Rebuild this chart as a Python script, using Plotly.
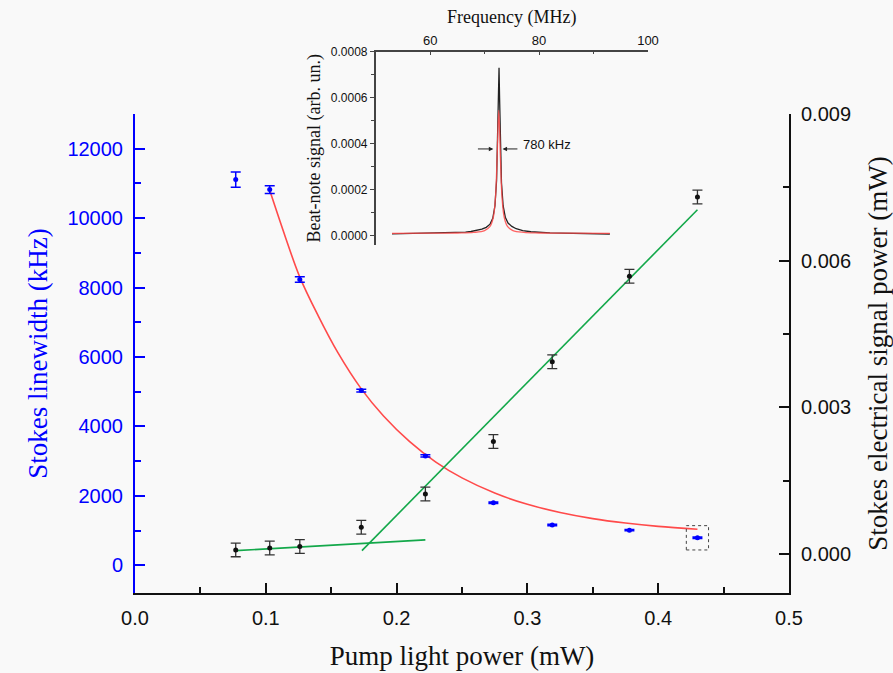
import plotly.graph_objects as go

# ---- main measurement data -------------------------------------------------
pump_mw = [0.077, 0.103, 0.126, 0.173, 0.222, 0.274, 0.319, 0.378, 0.430]
linewidth_khz = [11110, 10820, 8230, 5030, 3150, 1800, 1160, 1010, 790]
linewidth_err = [220, 110, 80, 40, 30, 20, 20, 20, 20]
stokes_power_mw = [0.000082, 0.000122, 0.000150, 0.000544, 0.001224,
                   0.00230, 0.00393, 0.00568, 0.00730]
stokes_power_err = [0.00014, 0.00014, 0.00014, 0.00014, 0.00014,
                    0.00014, 0.00014, 0.00014, 0.00014]

# exponential-decay fit of the linewidth
fit_x = [0.103, 0.115, 0.126, 0.14, 0.155, 0.173, 0.19, 0.21, 0.23, 0.25,
         0.275, 0.30, 0.325, 0.35, 0.375, 0.40, 0.43]
fit_linewidth = [10800, 9450, 8300, 7190, 6130, 5080, 4300, 3560, 2970, 2515,
                 2080, 1755, 1520, 1343, 1215, 1118, 1036]

# linear fits below / above threshold
below_x = [0.077, 0.222]
below_power = [0.000067, 0.000286]
above_x = [0.1735, 0.430]
above_power = [0.000067, 0.00704]

# ---- inset: beat-note spectrum --------------------------------------------
spec_freq = [53.0, 55.0, 57.0, 59.0, 61.0, 63.0, 65.0, 66.5, 67.5, 68.5, 69.5,
             70.3, 71.0, 71.5, 71.9, 72.2, 72.4, 72.55, 72.65, 72.75, 72.9,
             73.1, 73.4, 73.8, 74.3, 75.0, 75.8, 77.0, 78.5, 80.0, 82.0, 84.0,
             86.0, 88.0, 90.0, 93.0]
spec_signal = [8e-6, 9e-6, 8e-6, 1.0e-5, 9e-6, 1.1e-5, 1.3e-5, 1.5e-5, 1.8e-5,
               2.2e-5, 2.8e-5, 3.6e-5, 5.0e-5, 7.5e-5, 1.3e-4, 2.4e-4, 4.2e-4,
               6.2e-4, 7.3e-4, 6.0e-4, 4.0e-4, 2.3e-4, 1.3e-4, 8.0e-5, 5.5e-5,
               4.0e-5, 3.0e-5, 2.2e-5, 1.7e-5, 1.4e-5, 1.2e-5, 1.05e-5, 1.0e-5,
               9e-6, 8e-6, 7e-6]
lor_freq = [53.0, 60.0, 65.0, 68.0, 70.0, 71.0, 71.6, 72.0, 72.3, 72.6, 72.9,
            73.2, 73.6, 74.2, 75.2, 77.2, 80.0, 85.0, 93.0]
lor_signal = [1.0e-5, 1.05e-5, 1.14e-5, 1.4e-5, 2.2e-5, 4.0e-5, 8.0e-5, 1.67e-4,
              3.43e-4, 5.45e-4, 3.43e-4, 1.67e-4, 8.0e-5, 4.0e-5, 2.2e-5,
              1.4e-5, 1.15e-5, 1.05e-5, 1.0e-5]
fwhm_label = "780 kHz"

BLUE = "#0000ff"
RED = "#ff4a4a"
GREEN = "#13a84a"
SANS = "Liberation Sans, Arial, sans-serif"
SERIF = "Liberation Serif, Times New Roman, serif"
BG = "#f9f9f9"

fig = go.Figure()

# linewidth fit and data (left axis)
fig.add_trace(go.Scatter(x=fit_x, y=fit_linewidth, mode="lines",
                         line=dict(color=RED, width=1.6, shape="spline"),
                         xaxis="x", yaxis="y", showlegend=False))
fig.add_trace(go.Scatter(x=pump_mw, y=linewidth_khz, mode="markers",
                         marker=dict(color=BLUE, size=5),
                         error_y=dict(type="data", array=linewidth_err,
                                      color=BLUE, thickness=1.5, width=5),
                         xaxis="x", yaxis="y", showlegend=False))

# electrical power fits and data (right axis)
fig.add_trace(go.Scatter(x=below_x, y=below_power, mode="lines",
                         line=dict(color=GREEN, width=1.6),
                         xaxis="x", yaxis="y2", showlegend=False))
fig.add_trace(go.Scatter(x=above_x, y=above_power, mode="lines",
                         line=dict(color=GREEN, width=1.6),
                         xaxis="x", yaxis="y2", showlegend=False))
fig.add_trace(go.Scatter(x=pump_mw, y=stokes_power_mw, mode="markers",
                         marker=dict(color="#111111", size=5),
                         error_y=dict(type="data", array=stokes_power_err,
                                      color="#333333", thickness=1.3, width=5),
                         xaxis="x", yaxis="y2", showlegend=False))

# inset spectrum
fig.add_trace(go.Scatter(x=spec_freq, y=spec_signal, mode="lines",
                         line=dict(color="#222222", width=1.3),
                         xaxis="x3", yaxis="y3", showlegend=False))
fig.add_trace(go.Scatter(x=lor_freq, y=lor_signal, mode="lines",
                         line=dict(color=RED, width=1.3, shape="spline"),
                         opacity=0.85,
                         xaxis="x3", yaxis="y3", showlegend=False))

# dotted box around the highest-power linewidth point
fig.add_shape(type="rect", xref="x", yref="y",
              x0=pump_mw[-1] - 0.0085, x1=pump_mw[-1] + 0.0085,
              y0=linewidth_khz[-1] - 350, y1=linewidth_khz[-1] + 350,
              line=dict(color="#444444", width=1, dash="dot"))

# FWHM arrows and label in the inset
arrow_y = 3.77e-4
fig.add_annotation(x=71.6, y=arrow_y, ax=68.5, ay=arrow_y,
                   xref="x3", yref="y3", axref="x3", ayref="y3",
                   text="", showarrow=True, arrowhead=2, arrowsize=0.9,
                   arrowwidth=1, arrowcolor="#222222")
fig.add_annotation(x=73.3, y=arrow_y, ax=76.3, ay=arrow_y,
                   xref="x3", yref="y3", axref="x3", ayref="y3",
                   text="", showarrow=True, arrowhead=2, arrowsize=0.9,
                   arrowwidth=1, arrowcolor="#222222")
fig.add_annotation(x=76.6, y=3.95e-4, xref="x3", yref="y3", text=fwhm_label,
                   showarrow=False, xanchor="left", yanchor="middle",
                   font=dict(family=SANS, size=13, color="#111111"))

main_dom = [0, 0.8663]

fig.update_layout(
    width=893, height=673,
    margin=dict(l=135, r=104, t=40, b=79.5),
    paper_bgcolor=BG, plot_bgcolor=BG,
    xaxis=dict(
        domain=[0, 1], range=[0, 0.5], dtick=0.1, tickformat=".1f",
        automargin=False,
        showline=True, linecolor="#111111", linewidth=2, mirror=False,
        ticks="inside", ticklen=10, tickwidth=2, tickcolor="#111111",
        minor=dict(ticks="inside", dtick=0.05, ticklen=6, tickwidth=2,
                   tickcolor="#111111"),
        showgrid=False, zeroline=False, ticklabelstandoff=6,
        tickfont=dict(family=SANS, size=20, color="#111111"),
        title=dict(text="Pump light power (mW)", standoff=18,
                   font=dict(family=SERIF, size=27, color="#111111")),
    ),
    yaxis=dict(
        domain=main_dom, range=[-800, 13000], dtick=2000, tickformat="d",
        automargin=False,
        showline=True, linecolor=BLUE, linewidth=2,
        ticks="inside", ticklen=10, tickwidth=2, tickcolor=BLUE,
        minor=dict(ticks="inside", dtick=1000, ticklen=6, tickwidth=2,
                   tickcolor=BLUE),
        showgrid=False, zeroline=False, ticklabelstandoff=6,
        tickfont=dict(family=SANS, size=20, color=BLUE),
        title=dict(text="Stokes linewidth (kHz)", standoff=12,
                   font=dict(family=SERIF, size=27, color=BLUE)),
    ),
    yaxis2=dict(
        domain=main_dom, overlaying="y", side="right", anchor="x",
        range=[-0.0008, 0.009], dtick=0.003, tickformat=".3f",
        automargin=False,
        showline=True, linecolor="#111111", linewidth=2,
        ticks="inside", ticklen=10, tickwidth=2, tickcolor="#111111",
        minor=dict(ticks="inside", dtick=0.0015, ticklen=6, tickwidth=2,
                   tickcolor="#111111"),
        showgrid=False, zeroline=False, ticklabelstandoff=6,
        tickfont=dict(family=SANS, size=20, color="#111111"),
        title=dict(text="Stokes electrical signal power (mW)", standoff=18,
                   font=dict(family=SERIF, size=27, color="#111111")),
    ),
    xaxis3=dict(
        domain=[0.368, 0.7844], anchor="y3", side="top",
        range=[50, 100], tick0=0, dtick=20, automargin=False,
        showline=True, linecolor="#444444", linewidth=1.5,
        ticks="inside", ticklen=4, tickwidth=1.3, tickcolor="#444444",
        minor=dict(ticks="inside", dtick=10, ticklen=3, tickwidth=1.3,
                   tickcolor="#444444"),
        showgrid=False, zeroline=False,
        tickfont=dict(family=SANS, size=13, color="#111111"),
        title=dict(text="Frequency (MHz)", standoff=4,
                   font=dict(family=SERIF, size=18, color="#111111")),
    ),
    yaxis3=dict(
        domain=[0.6296, 0.9789], anchor="x3", automargin=False,
        range=[-0.00004, 0.0008], dtick=0.0002, tickformat=".4f",
        showline=True, linecolor="#444444", linewidth=1.5,
        ticks="outside", ticklen=4, tickwidth=1.3, tickcolor="#444444",
        minor=dict(ticks="outside", dtick=0.0001, ticklen=3, tickwidth=1.3,
                   tickcolor="#444444"),
        showgrid=False, zeroline=False,
        tickfont=dict(family=SANS, size=12, color="#111111"),
        title=dict(text="Beat-note signal (arb. un.)", standoff=6,
                   font=dict(family=SERIF, size=18, color="#111111")),
    ),
)

fig.write_html("out.html")
